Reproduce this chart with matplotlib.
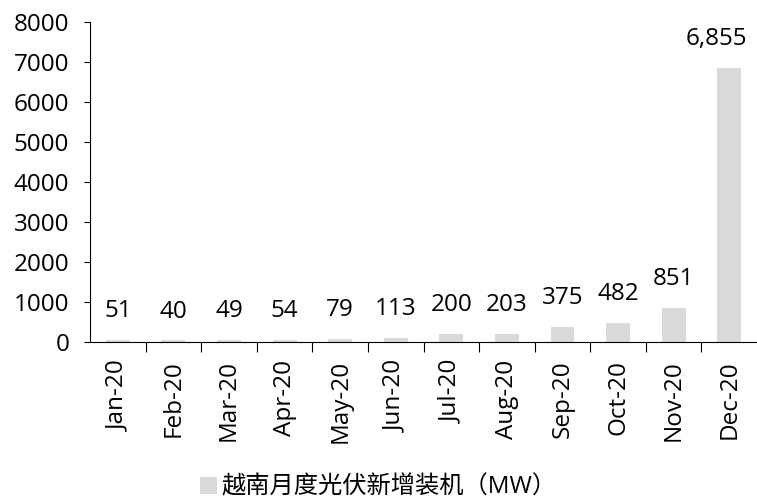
import numpy as np
import matplotlib.pyplot as plt
from matplotlib.patches import Patch

plt.rcParams['font.family'] = ['Open Sans', 'Noto Sans CJK SC', 'DejaVu Sans']

# 数据
months = ['Jan-20', 'Feb-20', 'Mar-20', 'Apr-20', 'May-20', 'Jun-20',
          'Jul-20', 'Aug-20', 'Sep-20', 'Oct-20', 'Nov-20', 'Dec-20']
installs = [51, 40, 49, 54, 79, 113, 200, 203, 375, 482, 851, 6855]
series_name = '越南月度光伏新增装机（MW）'

fs = 17.5

fig = plt.figure(figsize=(7.57, 5.03), dpi=100)
ax = fig.add_axes([0.119, 0.320, 0.881, 0.636])

x = np.arange(len(months))
ax.bar(x, installs, width=0.43, color='#d9d9d9', zorder=2)

# 数据标签（最后一个稍微左移，避免超出画布）
for i, (xi, v) in enumerate(zip(x, installs)):
    dx = -9 if i == len(x) - 1 else 0
    ax.annotate(f"{v:,}", (xi, v), xytext=(dx, 12), textcoords='offset points',
                ha='center', va='bottom', fontsize=fs)

ax.set_xlim(-0.5, len(months) - 0.5)
ax.set_ylim(0, 8000)
ax.set_yticks(range(0, 8001, 1000))
ax.tick_params(axis='y', labelsize=fs, length=4, width=0.8, pad=11)

ax.set_xticks(x)
ax.set_xticklabels(months, rotation=90, fontsize=fs)
ax.tick_params(axis='x', which='major', length=0, pad=13)
ax.set_xticks(np.arange(0.5, len(months) - 0.5, 1), minor=True)
ax.tick_params(axis='x', which='minor', length=7, width=0.8)

for s in ['top', 'right']:
    ax.spines[s].set_visible(False)
for s in ['left', 'bottom']:
    ax.spines[s].set_linewidth(0.8)

handle = Patch(facecolor='#d9d9d9', edgecolor='none', label=series_name)
fig.legend(handles=[handle], loc='center', bbox_to_anchor=(0.5, 0.03),
           frameon=False, fontsize=fs, handlelength=0.7, handleheight=0.7,
           handletextpad=0.2, borderpad=0.1)

fig.savefig('out.png', dpi=100)
